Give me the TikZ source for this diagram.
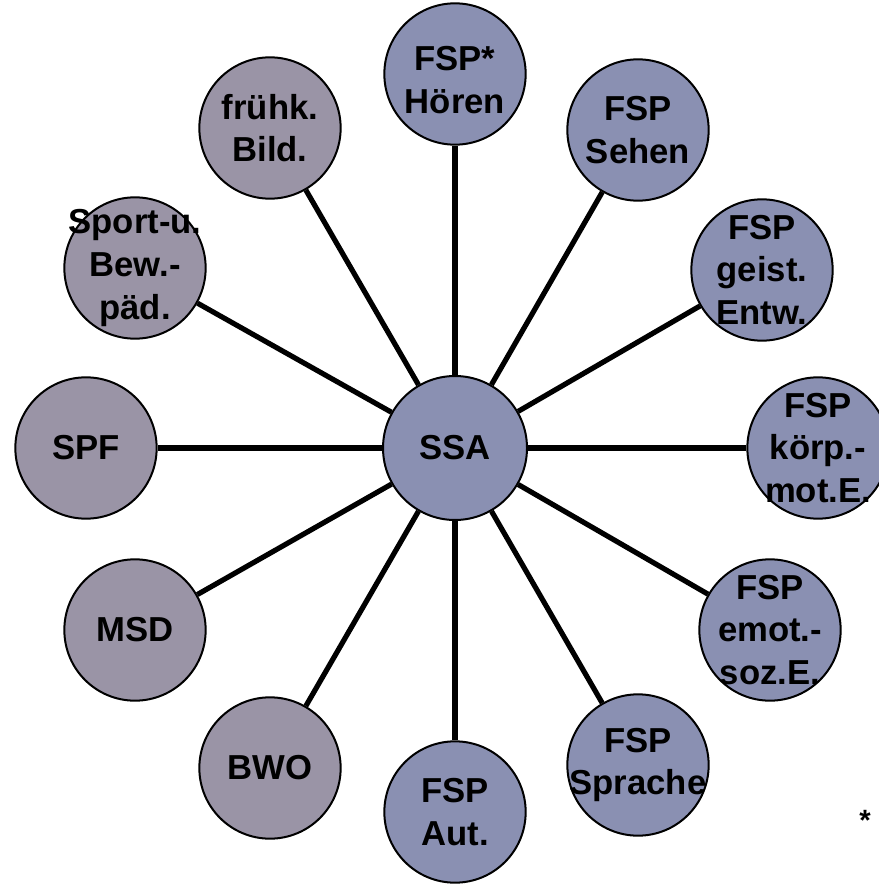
\documentclass[tikz,border=0pt]{standalone}
\usepackage{fontspec}
\setmainfont{Liberation Sans}
\usepackage{xcolor}
\usepackage{tikz}

\definecolor{fspblue}{RGB}{138,144,178}
\definecolor{greylila}{RGB}{154,148,166}

\tikzset{
	spoke/.style={circle,draw=black,line width=1.5pt,minimum size=106pt,inner sep=0pt},
	hub/.style={spoke,minimum size=108pt,fill=fspblue},
	fsp/.style={spoke,fill=fspblue},
	other/.style={spoke,fill=greylila},
	txt/.style={align=center,font=\fontsize{26}{32}\selectfont\bfseries,inner sep=0pt},
	link/.style={line width=3.9pt}
}

\begin{document}
\begin{tikzpicture}[x=0.75pt,y=-0.75pt]
	\useasboundingbox (0,0) rectangle (878,884);

	\node[hub] (ssa) at (455,448) {};
	\node[fsp] (hoeren) at (455,74) {};
	\node[fsp] (sehen) at (638,130) {};
	\node[fsp] (geist) at (762,270) {};
	\node[fsp] (koerp) at (818,448) {};
	\node[fsp] (emot) at (770,630) {};
	\node[fsp] (sprache) at (638,765) {};
	\node[fsp] (aut) at (455,812) {};
	\node[other] (bwo) at (270,768) {};
	\node[other] (msd) at (135,630) {};
	\node[other] (spf) at (86,448) {};
	\node[other] (sport) at (135,268) {};
	\node[other] (fruehk) at (270,128) {};

	\foreach \n in {hoeren,sehen,geist,koerp,emot,sprache,aut,bwo,msd,spf,sport,fruehk}{
		\draw[link] (ssa) -- (\n);
	}

	\node[txt] at (ssa) {SSA};
	\node[txt] at (455,80) {FSP*\\Hören};
	\node[txt] at (sehen) {FSP\\Sehen};
	\node[txt] at (geist) {FSP\\geist.\\Entw.};
	\node[txt] at (koerp) {FSP\\körp.-\\mot.E.};
	\node[txt] at (emot) {FSP\\emot.-\\soz.E.};
	\node[txt] at (sprache) {FSP\\Sprache};
	\node[txt] at (aut) {FSP\\Aut.};
	\node[txt] at (bwo) {BWO};
	\node[txt] at (msd) {MSD};
	\node[txt] at (spf) {SPF};
	\node[txt] at (sport) {Sport-u.\\Bew.-\\päd.};
	\node[txt] at (fruehk) {frühk.\\Bild.};

	\node[txt,font=\fontsize{22}{24}\selectfont\bfseries] (stern) at (865,820) {*};
\end{tikzpicture}
\end{document}
